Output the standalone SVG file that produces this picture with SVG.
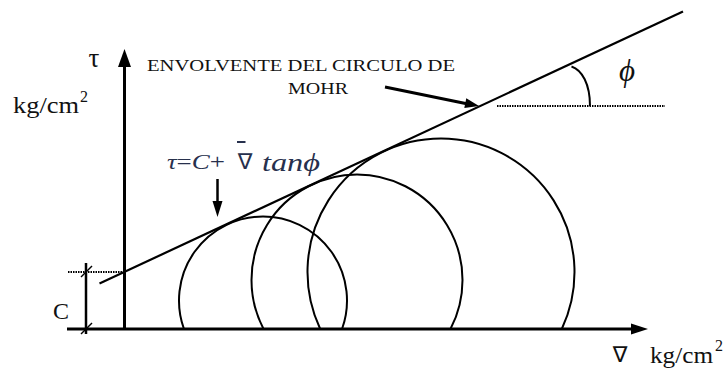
<svg xmlns="http://www.w3.org/2000/svg" width="726" height="381" viewBox="0 0 726 381">
<style>
.ln{stroke:#000;fill:none;stroke-linecap:butt}
.ax{stroke-width:3}
.c{stroke-width:2}
.t{font-family:"Liberation Serif","Times New Roman",serif;fill:#111}
.f{font-family:"Liberation Serif","Times New Roman",serif;fill:#27304d}
.nab{font-family:"DejaVu Sans","Noto Sans",sans-serif}
.dot{stroke-dasharray:1.5 1;stroke-width:1.8}
</style>
<rect width="726" height="381" fill="#fff"/>
<g id="axes">
<line class="ln ax" x1="124.5" y1="329" x2="124.5" y2="64"/>
<polygon points="124.5,49 118,67 131,67" fill="#000"/>
<line class="ln ax" x1="67" y1="329" x2="633" y2="329"/>
<polygon points="648,329 631,323.5 631,334.5" fill="#000"/>
</g>
<g id="circles">
<path id="circle1" class="ln c" d="M183.8,328.5 A84,84 0 1,1 342.2,328.5"/>
<path id="circle2" class="ln c" d="M263.3,328.5 A105.5,105.5 0 1,1 450.7,328.5"/>
<path id="circle3" class="ln c" d="M320,328.5 A133.5,133.5 0 1,1 562,328.5"/>
</g>
<g id="connectors">
<line id="envolvente" class="ln" stroke-width="2.2" x1="99.5" y1="283.5" x2="683" y2="11.5"/>
<line class="ln" stroke-width="3" x1="385" y1="87" x2="468" y2="104"/>
<polygon points="479,106 464.3,108.1 466.3,98.3" fill="#000"/>
<line class="ln" stroke-width="2.5" x1="217.5" y1="179" x2="217.5" y2="203"/>
<polygon points="217.5,217 212.5,201 222.5,201" fill="#000"/>
<line class="ln dot" x1="497" y1="106" x2="665" y2="106"/>
<path class="ln" stroke-width="2" d="M571.5,66.5 C582,70 590,84 590,106"/>
</g>
<g id="c-dim">
<line class="ln dot" x1="68" y1="272" x2="124" y2="272"/>
<line class="ln" stroke-width="2.5" x1="86" y1="263" x2="86" y2="334"/>
<line class="ln" stroke-width="1.5" x1="81" y1="277" x2="92" y2="266"/>
<line class="ln" stroke-width="1.5" x1="81" y1="334" x2="92" y2="323"/>
<text class="t" x="53" y="319" font-size="24" textLength="16" lengthAdjust="spacingAndGlyphs">C</text>
</g>
<g id="labels">
<text class="t" x="94" y="67" font-size="27" text-anchor="middle">τ</text>
<text class="t" x="13" y="113" font-size="24" textLength="66" lengthAdjust="spacingAndGlyphs">kg/cm</text>
<text class="t" x="80" y="102" font-size="16">2</text>
<text class="t" x="147" y="71" font-size="17" textLength="308" lengthAdjust="spacingAndGlyphs">ENVOLVENTE DEL CIRCULO DE</text>
<text class="t" x="288" y="94" font-size="17" textLength="60" lengthAdjust="spacingAndGlyphs">MOHR</text>
<text class="t" x="627" y="81" font-size="31" font-style="italic" text-anchor="middle">ϕ</text>
<text class="t nab" x="620" y="362" font-size="22" text-anchor="middle">∇</text>
<text class="t" x="650" y="363" font-size="24" textLength="63" lengthAdjust="spacingAndGlyphs">kg/cm</text>
<text class="t" x="715" y="351" font-size="16">2</text>
</g>
<g id="formula">
<text class="f" x="167" y="169" font-size="22" textLength="58" lengthAdjust="spacingAndGlyphs"><tspan font-style="italic">τ</tspan>=<tspan font-style="italic">C</tspan>+</text>
<line stroke="#27304d" stroke-width="2" x1="237" y1="142" x2="245.5" y2="142"/>
<text class="f nab" x="245" y="169" font-size="22" text-anchor="middle">∇</text>
<text class="f" x="262" y="171" font-size="25" font-style="italic" textLength="58" lengthAdjust="spacingAndGlyphs">tanϕ</text>
</g>
</svg>
